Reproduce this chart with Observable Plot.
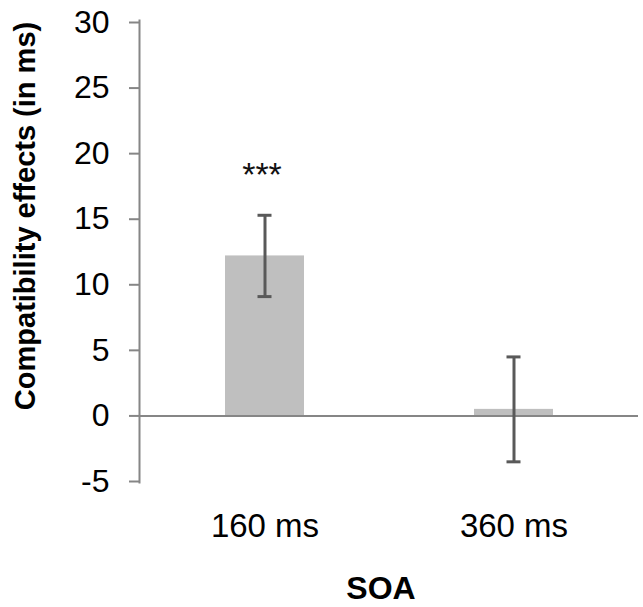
<!DOCTYPE html>
<html>
<head>
<meta charset="utf-8">
<script src="https://cdn.jsdelivr.net/npm/d3@7"></script>
<script src="https://cdn.jsdelivr.net/npm/@observablehq/plot@0.6"></script>
<style>
  html, body { margin: 0; padding: 0; background: #fff; }
  svg { font-family: "Liberation Sans", Arial, sans-serif; }
</style>
</head>
<body>
<div id="chart"></div>
<script>
const categories = ["160 ms", "360 ms"];
const effects = [12.2, 0.5];
const errors = [3.1, 4.0];
const significance = ["***", ""];
const yTicks = [-5, 0, 5, 10, 15, 20, 25, 30];
const yTitle = "Compatibility effects (in ms)";
const xTitle = "SOA";

const data = categories.map((c, i) => ({
  soa: c, value: effects[i], lo: effects[i] - errors[i], hi: effects[i] + errors[i], sig: significance[i]
}));

const axisGray = "#868686";
const errGray = "#595959";

const chart = Plot.plot({
  width: 643,
  height: 607,
  marginLeft: 139,
  marginRight: 5,
  marginTop: 22,
  marginBottom: 126,
  style: {fontFamily: "'Liberation Sans', Arial, sans-serif", background: "#fff", color: "#000"},
  x: {domain: categories, paddingInner: 0.683, paddingOuter: 0.3415, axis: null},
  y: {domain: [-5, 30], axis: null},
  marks: [
    Plot.barY(data, {x: "soa", y: "value", fill: "#bfbfbf"}),
    Plot.ruleY([0], {stroke: axisGray, strokeWidth: 2}),
    Plot.frame({anchor: "left", stroke: axisGray, strokeWidth: 2, insetTop: -2, insetBottom: -1}),
    Plot.axisY({ticks: yTicks, tickSize: 10, tickPadding: 20, stroke: axisGray, strokeWidth: 2,
      fontSize: 32, fill: "#000", tickFormat: d => d < 0 ? "-" + Math.abs(d) : String(d), label: null}),
    Plot.axisX({tickSize: 0, tickPadding: 32, fontSize: 33, fill: "#000", label: null}),
    Plot.ruleX(data, {x: "soa", y1: "lo", y2: "hi", stroke: errGray, strokeWidth: 3}),
    Plot.tickY(data, {x: "soa", y: "lo", stroke: errGray, strokeWidth: 3, inset: 32.5}),
    Plot.tickY(data, {x: "soa", y: "hi", stroke: errGray, strokeWidth: 3, inset: 32.5}),
    Plot.text(data, {x: "soa", y: "hi", text: "sig", dy: -40, dx: -3, fontSize: 34, fill: "#111", lineAnchor: "middle"}),
    Plot.text([xTitle], {frameAnchor: "bottom", dy: 107, fontSize: 32, fontWeight: "bold", fill: "#000", lineAnchor: "middle", dx: -8}),
    Plot.text([yTitle], {frameAnchor: "left", textAnchor: "middle", dx: -114, dy: -36, rotate: -90, fontSize: 29, fontWeight: "bold", fill: "#000", lineAnchor: "middle"})
  ]
});
document.getElementById("chart").appendChild(chart);
</script>
</body>
</html>
